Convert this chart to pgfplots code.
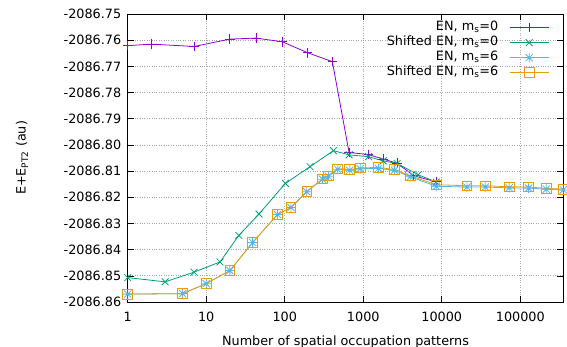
\documentclass[border=0pt]{standalone}
\usepackage{fontspec}
\setmainfont{DejaVu Sans}
\usepackage{pgfplots}
\usepackage{pgfplotstable}
\pgfplotsset{compat=1.18}
\definecolor{cPurple}{HTML}{9400D3}
\definecolor{cGreen}{HTML}{009E73}
\definecolor{cBlue}{HTML}{56B4E9}
\definecolor{cOrange}{HTML}{E69F00}
\pgfdeclareplotmark{gpstar}{%
  \pgfpathmoveto{\pgfqpoint{-\pgfplotmarksize}{0pt}}\pgfpathlineto{\pgfqpoint{\pgfplotmarksize}{0pt}}%
  \pgfpathmoveto{\pgfqpoint{0pt}{-\pgfplotmarksize}}\pgfpathlineto{\pgfqpoint{0pt}{\pgfplotmarksize}}%
  \pgfpathmoveto{\pgfqpoint{-0.75\pgfplotmarksize}{-0.75\pgfplotmarksize}}\pgfpathlineto{\pgfqpoint{0.75\pgfplotmarksize}{0.75\pgfplotmarksize}}%
  \pgfpathmoveto{\pgfqpoint{-0.75\pgfplotmarksize}{0.75\pgfplotmarksize}}\pgfpathlineto{\pgfqpoint{0.75\pgfplotmarksize}{-0.75\pgfplotmarksize}}%
  \pgfusepathqstroke}

\pgfplotstableread{
x E
1 -2086.7621
2 -2086.7615
7 -2086.7624
20 -2086.7596
43 -2086.7592
93 -2086.7606
196 -2086.7648
404 -2086.7682
660 -2086.8029
1170 -2086.8037
1790 -2086.8054
2700 -2086.8070
4400 -2086.8118
8500 -2086.8141
}\tabENzero

\pgfplotstableread{
x E
1 -2086.8507
3 -2086.8523
7 -2086.8486
15 -2086.8447
26 -2086.8346
47 -2086.8264
102 -2086.8147
210 -2086.8083
417 -2086.8022
660 -2086.8038
1170 -2086.8045
1790 -2086.8061
2700 -2086.8071
5000 -2086.8114
8500 -2086.8142
}\tabShiftZero

\pgfplotstableread{
x E
1 -2086.8570
5 -2086.8568
10 -2086.8530
20 -2086.8480
39 -2086.8373
81 -2086.8266
120 -2086.8239
191 -2086.8179
302 -2086.8131
360 -2086.8120
472 -2086.8093
671 -2086.8097
914 -2086.8091
1560 -2086.8090
2500 -2086.8097
3960 -2086.8122
8490 -2086.8158
20900 -2086.8161
35800 -2086.8161
72400 -2086.8164
127700 -2086.8165
214400 -2086.8169
353000 -2086.8172
}\tabENsix

\pgfplotstableread{
x E
1 -2086.8570
5 -2086.8568
10 -2086.8530
20 -2086.8480
39 -2086.8373
81 -2086.8266
120 -2086.8239
191 -2086.8178
302 -2086.8130
360 -2086.8118
472 -2086.8091
671 -2086.8094
914 -2086.8088
1560 -2086.8086
2500 -2086.8094
3960 -2086.8118
8490 -2086.8152
20900 -2086.8156
35800 -2086.8156
72400 -2086.8160
127700 -2086.8161
214400 -2086.8166
353000 -2086.8169
}\tabShiftSix

\begin{document}
\fontsize{12.8pt}{15pt}\selectfont
\begin{tikzpicture}
\useasboundingbox (-127.7pt,-45pt) rectangle (439.3pt,302pt);
\begin{axis}[
  at={(0,0)}, anchor=south west,
  scale only axis, width=435.6pt, height=288pt,
  xmode=log, log basis x=10,
  xmin=1, xmax=353000,
  ymin=-2086.86, ymax=-2086.75,
  xtick={1,10,100,1000,10000,100000},
  xticklabels={1,10,100,1000,10000,100000},
  ytick={-2086.86,-2086.85,-2086.84,-2086.83,-2086.82,-2086.81,-2086.80,-2086.79,-2086.78,-2086.77,-2086.76,-2086.75},
  yticklabels={-2086.86,-2086.85,-2086.84,-2086.83,-2086.82,-2086.81,-2086.80,-2086.79,-2086.78,-2086.77,-2086.76,-2086.75},
  /pgf/number format/assume math mode=true,
  tick align=inside, tick pos=both,
  major tick length=6pt, minor tick length=3pt,
  tick style={black, line width=0.6pt},
  axis line style={black, line width=0.9pt},
  grid=major,
  major grid style={gray!70, dotted, line width=0.7pt},
  xticklabel style={yshift=-5.5pt},
  yticklabel style={xshift=-2pt},
  every axis x label/.style={at={(axis description cs:0.5,-0.138)}, anchor=center},
  every axis y label/.style={at={(axis description cs:-0.2427,0.5)}, rotate=90, anchor=center},
  xlabel={Number of spatial occupation patterns},
  ylabel={E+E\textsubscript{PT2} (au)},
  legend plot pos=right,
  legend cell align=right,
  legend image code/.code={\draw[mark repeat=2,mark phase=2] plot coordinates {(0pt,0pt) (19.5pt,0pt) (39pt,0pt)};},
  legend style={draw=none, fill=none, at={(1,1)}, anchor=north east, xshift=-14pt, yshift=-6pt,
    row sep=0pt, inner sep=0pt,
    nodes={inner ysep=1pt, inner xsep=3pt, text height=9.5pt, text depth=3.5pt},
    /tikz/column 1/.style={column sep=8pt}},
  every axis plot/.append style={line width=0.8pt, mark size=4.8pt, mark options={solid}},
]
\addplot[cPurple, mark=+] table[x=x, y=E] {\tabENzero};
\addlegendentry{EN, m\textsubscript{s}=0}
\addplot[cGreen, mark=x] table[x=x, y=E] {\tabShiftZero};
\addlegendentry{Shifted EN, m\textsubscript{s}=0}
\addplot[cBlue, mark=gpstar] table[x=x, y=E] {\tabENsix};
\addlegendentry{EN, m\textsubscript{s}=6}
\addplot[cOrange, mark=square] table[x=x, y=E] {\tabShiftSix};
\addlegendentry{Shifted EN, m\textsubscript{s}=6}
\end{axis}
\end{tikzpicture}
\end{document}
